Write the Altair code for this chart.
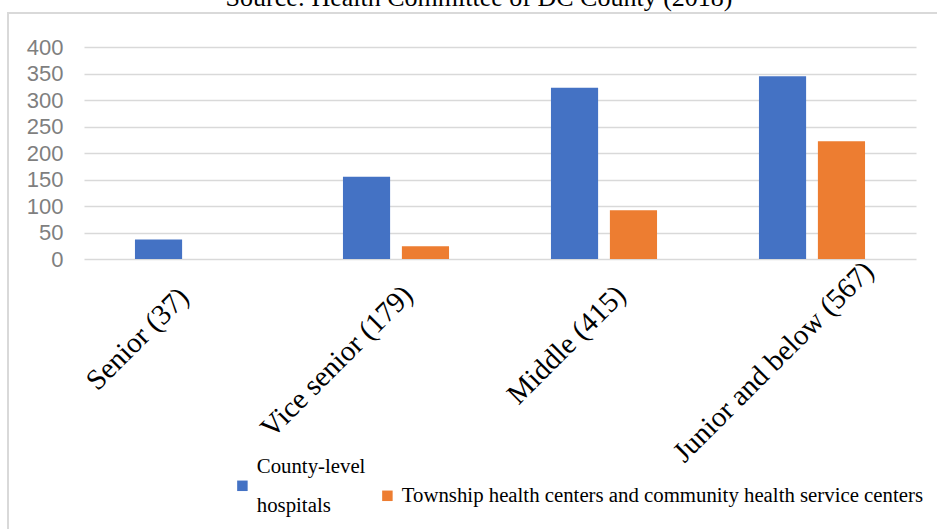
import altair as alt
import pandas as pd

categories = ["Senior (37)", "Vice senior (179)", "Middle (415)", "Junior and below (567)"]
series_names = ["County-level hospitals",
                "Township health centers and community health service centers"]
county_level = [37, 155, 323, 345]
township = [None, 24, 92, 222]
y_ticks = [0, 50, 100, 150, 200, 250, 300, 350, 400]
colors = ["#4472C4", "#ED7D31"]

rows = []
for c, v in zip(categories, county_level):
    rows.append({"category": c, "series": series_names[0], "value": v})
for c, v in zip(categories, township):
    if v is not None:
        rows.append({"category": c, "series": series_names[1], "value": v})
df = pd.DataFrame(rows)

# per-label fine placement of rotated labels (style only)
label_dx = {categories[0]: -4, categories[1]: 12, categories[2]: 17, categories[3]: 57}
label_pad = {categories[0]: 33, categories[1]: 31, categories[2]: 31, categories[3]: 7}
off_cond = [{"test": f"datum.value === '{k}'", "value": v} for k, v in label_dx.items()]
pad_cond = [{"test": f"datum.value === '{k}'", "value": v} for k, v in label_pad.items()]

bars = alt.Chart(df).mark_bar().encode(
    x=alt.X("category:N", sort=categories, title=None,
            scale=alt.Scale(paddingInner=0.49, paddingOuter=0.245),
            axis=alt.Axis(labelAngle=-45, labelAlign="right", labelBaseline="middle",
                          labelFont="Liberation Serif", labelFontSize=29, labelColor="#000000",
                          labelOffset={"condition": off_cond, "value": 0},
                          labelPadding={"condition": pad_cond, "value": 30},
                          labelLimit=500, domain=False, ticks=False, grid=False)),
    xOffset=alt.XOffset("series:N", sort=series_names,
                        scale=alt.Scale(paddingInner=0.2, paddingOuter=0)),
    y=alt.Y("value:Q", title=None, scale=alt.Scale(domain=[0, 400]),
            axis=alt.Axis(values=y_ticks, labelFont="Liberation Sans", labelFontSize=22,
                          labelColor="#7f7f7f", labelPadding=21, ticks=False, domain=False,
                          gridColor="#d9d9d9", gridWidth=1.5)),
    color=alt.Color("series:N", sort=series_names,
                    scale=alt.Scale(domain=series_names, range=colors),
                    legend=alt.Legend(title=None, orient="none", direction="horizontal",
                                      legendX=148, legendY=428,
                                      symbolType="square", symbolSize=110, symbolStrokeWidth=0,
                                      labelFont="Liberation Serif", labelFontSize=20.8,
                                      labelColor="#000000", labelOffset=4, columnPadding=11,
                                      labelLimit=0,
                                      labelBaseline={"expr": "datum.label == 'County-level hospitals' ? 'line-bottom' : 'middle'"},
                                      labelExpr="datum.label == 'County-level hospitals' ? ['County-level', 'hospitals'] : datum.label")),
)

frame = alt.Chart(pd.DataFrame({"a": [0]})).mark_rect(
    fillOpacity=0, stroke="#d9d9d9", strokeWidth=2
).encode(x=alt.value(-76), x2=alt.value(960), y=alt.value(-34), y2=alt.value(600))

chart = alt.layer(frame, bars).properties(
    width=832, height=212,
    autosize=alt.AutoSizeParams(type="none"),
    padding={"left": 84, "top": 47, "right": 21, "bottom": 270},
    title=alt.TitleParams("Source: Health Committee of DC County (2018)",
                          font="Liberation Serif", fontSize=26, fontWeight="normal",
                          color="#000000", anchor="middle", baseline="alphabetic",
                          offset=0, dx=-21, dy=20),
).configure(background="#ffffff", style={"guide-label": {"lineHeight": 39}}
).configure_view(strokeWidth=0)

chart.save("out.html", embed_options={"renderer": "svg", "actions": False})
